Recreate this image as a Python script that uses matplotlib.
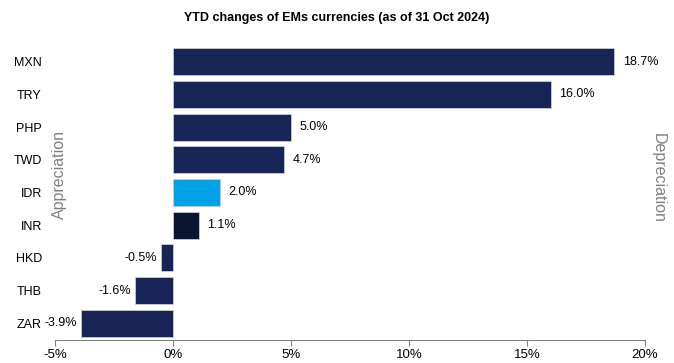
import matplotlib
matplotlib.use("Agg")
import matplotlib.pyplot as plt
from matplotlib.ticker import FuncFormatter

plt.rcParams['font.family'] = ['Liberation Sans', 'DejaVu Sans']

# Variazioni YTD delle valute emergenti (%)
valute = ['MXN', 'TRY', 'PHP', 'TWD', 'IDR', 'INR', 'HKD', 'THB', 'ZAR']
variazioni = [18.7, 16.0, 5.0, 4.7, 2.0, 1.1, -0.5, -1.6, -3.9]
colori = ['#172456', '#172456', '#172456', '#172456', '#00a2e6',
          '#0b1430', '#172456', '#172456', '#172456']

fig = plt.figure(figsize=(6.74, 3.63), dpi=100)
ax = fig.add_axes([0.0816, 0.0647, 0.8754, 0.81])

pos = list(range(len(valute)))
ax.barh(pos, variazioni, height=0.83, color=colori, edgecolor='#c8cbd6', linewidth=0.6)

# etichette con il valore
for y, v in zip(pos, variazioni):
    if v >= 0:
        ax.annotate(f'{v:.1f}%', (v, y), xytext=(6, 0), textcoords='offset points',
                    va='center', ha='left', fontsize=9)
    else:
        ax.annotate(f'{v:.1f}%', (v, y), xytext=(-3, 0), textcoords='offset points',
                    va='center', ha='right', fontsize=9)

ax.set_ylim(-0.5, len(valute) - 0.5)
ax.invert_yaxis()
ax.set_xlim(-5, 20)
ax.set_xticks([-5, 0, 5, 10, 15, 20])
ax.xaxis.set_major_formatter(FuncFormatter(lambda x, p: f'{x:.0f}%'))
ax.set_yticks(pos)
ax.set_yticklabels(valute, fontsize=9)
ax.tick_params(axis='y', length=0, pad=9.5)
ax.tick_params(axis='x', length=4, color='#808080', labelsize=9.5, pad=3)

for s in ['top', 'right', 'left']:
    ax.spines[s].set_visible(False)
ax.spines['bottom'].set_color('#808080')
ax.spines['bottom'].set_linewidth(0.8)

fig.text(0.5, 0.95, 'YTD changes of EMs currencies (as of 31 Oct 2024)',
         ha='center', va='center', fontsize=9, fontweight='bold')
fig.text(0.088, 0.52, 'Appreciation', rotation=90, ha='center', va='center',
         fontsize=11.5, color='#808080')
fig.text(0.976, 0.51, 'Depreciation', rotation=270, ha='center', va='center',
         fontsize=11.5, color='#808080')

fig.savefig('out.png', dpi=100)
